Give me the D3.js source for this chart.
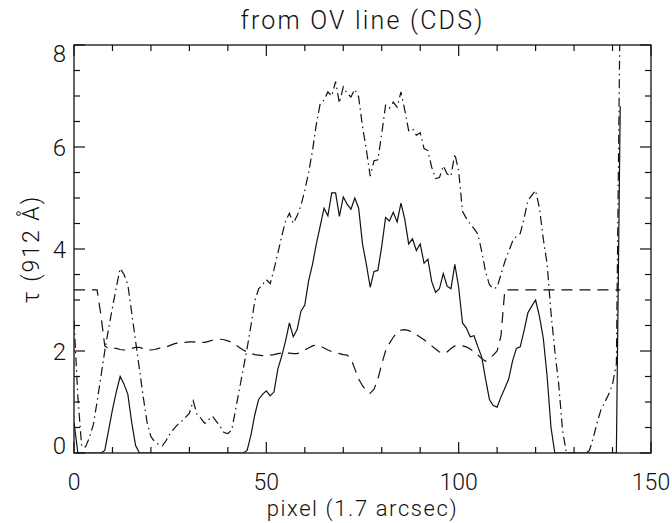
<!DOCTYPE html>
<html>
<head>
<meta charset="utf-8">
<script src="https://cdn.jsdelivr.net/npm/d3@7"></script>
<style>
  body { margin: 0; background: #fff; }
  text { font-family: Roboto, "DejaVu Sans", sans-serif; font-weight: 300; fill: #111; }
</style>
</head>
<body>
<div id="chart"></div>
<script>
// optical depth at 912 A, one value per pixel (index = pixel)
const solidTau = [
  0.6, 0, 0, 0, 0, 0, 0, 0, 0.05, 0.45,
  0.85, 1.2, 1.5, 1.35, 1.15, 0.6, 0.15, 0, 0, 0,
  0, 0, 0, 0, 0, 0, 0, 0, 0, 0,
  0, 0, 0, 0, 0, 0, 0, 0, 0, 0,
  0, 0, 0, 0, 0, 0.05, 0.35, 0.75, 1.05, 1.15,
  1.22, 1.12, 1.2, 1.65, 1.9, 2.2, 2.55, 2.28, 2.42, 2.78,
  2.9, 3.38, 3.7, 4.1, 4.45, 4.8, 4.65, 5.1, 5.1, 4.64,
  5.02, 4.88, 4.78, 5.0, 4.8, 4.1, 3.7, 3.25, 3.56, 3.58,
  4.05, 4.62, 4.55, 4.72, 4.53, 4.9, 4.58, 4.1, 4.2, 3.97,
  4.1, 3.72, 3.8, 3.36, 3.15, 3.22, 3.52, 3.27, 3.22, 3.7,
  3.25, 2.55, 2.45, 2.28, 2.3, 2.08, 1.88, 1.45, 1.05, 0.93,
  0.9, 1.1, 1.27, 1.45, 1.8, 2.05, 2.08, 2.4, 2.75, 2.88,
  3.0, 2.68, 2.25, 1.5, 0.5, 0, 0, 0, 0, 0,
  0, 0, 0, 0, 0, 0, 0, 0, 0, 0,
  0, 0, 6.8
];

const dashedTau = [
  3.2, 3.2, 3.2, 3.2, 3.2, 3.2, 3.2, 2.7, 2.1, 2.05,
  2.05, 2.05, 2.03, 2.02, 2.03, 2.05, 2.07, 2.07, 2.05, 2.03,
  2.02, 2.03, 2.05, 2.07, 2.08, 2.11, 2.14, 2.16, 2.17, 2.17,
  2.18, 2.18, 2.17, 2.17, 2.17, 2.19, 2.21, 2.23, 2.23, 2.22,
  2.2, 2.17, 2.12, 2.07, 2.02, 1.98, 1.95, 1.93, 1.92, 1.91,
  1.91, 1.92, 1.93, 1.95, 1.96, 1.96, 1.96, 1.95, 1.95, 1.98,
  2.02, 2.06, 2.1, 2.12, 2.1, 2.06, 2.02, 1.99, 1.97, 1.95,
  1.93, 1.92, 1.85, 1.65, 1.45, 1.32, 1.22, 1.17, 1.25, 1.45,
  1.75, 2.0, 2.15, 2.27, 2.36, 2.41, 2.42, 2.4, 2.37, 2.32,
  2.27, 2.22, 2.16, 2.1, 2.04, 1.98, 1.95, 1.98, 2.05, 2.1,
  2.1, 2.1, 2.08, 2.04, 1.98, 1.92, 1.85, 1.8, 1.85, 1.92,
  2.0, 2.3, 3.2, 3.2, 3.2, 3.2, 3.2, 3.2, 3.2, 3.2,
  3.2, 3.2, 3.2, 3.2, 3.2, 3.2, 3.2, 3.2, 3.2, 3.2,
  3.2, 3.2, 3.2, 3.2, 3.2, 3.2, 3.2, 3.2, 3.2, 3.2,
  3.2, 3.2, 3.2
];

const dashDotTau = [
  2.6, 1.1, 0.12, 0.12, 0.3, 0.55, 1.0, 1.5, 2.0, 2.45,
  2.85, 3.25, 3.62, 3.5, 3.3, 2.75, 2.2, 1.65, 1.1, 0.6,
  0.32, 0.22, 0.17, 0.14, 0.25, 0.38, 0.48, 0.56, 0.62, 0.7,
  0.78, 1.02, 0.75, 0.68, 0.58, 0.65, 0.72, 0.62, 0.52, 0.4,
  0.38, 0.45, 0.85, 1.25, 1.65, 2.05, 2.5, 2.98, 3.22, 3.3,
  3.4, 3.32, 3.6, 3.92, 4.25, 4.55, 4.7, 4.5, 4.65, 4.85,
  5.15, 5.5, 5.93, 6.45, 6.85, 6.92, 7.08, 7.0, 7.28, 6.86,
  7.18, 7.05, 6.98, 7.13, 6.98, 6.4, 5.95, 5.43, 5.73, 5.75,
  6.26, 6.82, 6.76, 6.88, 6.78, 7.08, 6.72, 6.32, 6.36, 6.23,
  6.28, 5.97, 5.93, 5.6, 5.38, 5.4, 5.63, 5.47, 5.43, 5.87,
  5.53, 4.74, 4.6, 4.49, 4.4, 4.29, 3.95, 3.55, 3.3, 3.22,
  3.25, 3.5, 3.75, 3.95, 4.15, 4.25, 4.3, 4.6, 4.95, 5.05,
  5.15, 4.8, 4.2, 3.7, 2.75, 2.0, 1.35, 0.45, 0, 0,
  0, 0, 0, 0, 0.05, 0.3, 0.6, 0.85, 1.0, 1.15,
  1.35, 1.75, 9.0
];

const xMajorTicks = [0, 50, 100, 150];
const xMinorTicks = [10, 20, 30, 40, 60, 70, 80, 90, 110, 120, 130, 140];
const yMajorTicks = [0, 2, 4, 6, 8];
const yMinorTicks = [0.5, 1, 1.5, 2.5, 3, 3.5, 4.5, 5, 5.5, 6.5, 7, 7.5];

const titleText = 'from OV line (CDS)';
const xLabelText = 'pixel (1.7 arcsec)';
const yLabelText = 'τ (912 Å)';

const W = 672, H = 523;
const margin = { top: 45, right: 21, bottom: 70, left: 74 };
const width = W - margin.left - margin.right;
const height = H - margin.top - margin.bottom;

const svg = d3.select('#chart').append('svg')
  .attr('width', W)
  .attr('height', H);

const chart = svg.append('g')
  .attr('transform', `translate(${margin.left},${margin.top})`);

const xScale = d3.scaleLinear().domain([0, 150]).range([0, width]);
const yScale = d3.scaleLinear().domain([0, 8]).range([height, 0]);

chart.append('clipPath').attr('id', 'plot-clip')
  .append('rect').attr('width', width).attr('height', height);

// data lines
const line = d3.line()
  .x((d, i) => xScale(i))
  .y(d => yScale(d));

const series = [
  { values: solidTau, dash: null },
  { values: dashedTau, dash: '11,7' },
  { values: dashDotTau, dash: '9,4,1.5,4' }
];

chart.append('g').attr('clip-path', 'url(#plot-clip)')
  .selectAll('path')
  .data(series)
  .join('path')
  .attr('d', d => line(d.values))
  .attr('fill', 'none')
  .attr('stroke', '#111')
  .attr('stroke-width', 1.2)
  .attr('stroke-dasharray', d => d.dash);

// box with ticks on all four sides (IDL style)
const major = 11, minor = 6;
const ticksG = chart.append('g').attr('stroke', '#111').attr('stroke-width', 1.2);

const xTickData = xMajorTicks.map(v => ({ v, len: major }))
  .concat(xMinorTicks.map(v => ({ v, len: minor })));
const yTickData = yMajorTicks.map(v => ({ v, len: major }))
  .concat(yMinorTicks.map(v => ({ v, len: minor })));

ticksG.selectAll('.xb').data(xTickData).join('line')
  .attr('x1', d => xScale(d.v)).attr('x2', d => xScale(d.v))
  .attr('y1', height).attr('y2', d => height - d.len);
ticksG.selectAll('.xt').data(xTickData).join('line')
  .attr('x1', d => xScale(d.v)).attr('x2', d => xScale(d.v))
  .attr('y1', 0).attr('y2', d => d.len);
ticksG.selectAll('.yl').data(yTickData).join('line')
  .attr('x1', 0).attr('x2', d => d.len)
  .attr('y1', d => yScale(d.v)).attr('y2', d => yScale(d.v));
ticksG.selectAll('.yr').data(yTickData).join('line')
  .attr('x1', width).attr('x2', d => width - d.len)
  .attr('y1', d => yScale(d.v)).attr('y2', d => yScale(d.v));

chart.append('rect')
  .attr('width', width).attr('height', height)
  .attr('fill', 'none').attr('stroke', '#111').attr('stroke-width', 1.3);

// tick labels
chart.selectAll('.xlab').data(xMajorTicks).join('text')
  .attr('x', d => xScale(d))
  .attr('y', height + 37)
  .attr('text-anchor', 'middle')
  .attr('font-size', 23)
  .text(d => d);

chart.selectAll('.ylab').data(yMajorTicks).join('text')
  .attr('x', -8)
  .attr('y', d => Math.min(Math.max(yScale(d), 8), height - 8))
  .attr('dy', '0.36em')
  .attr('text-anchor', 'end')
  .attr('font-size', 24)
  .text(d => d);

// titles
svg.append('text')
  .attr('x', margin.left + width / 2)
  .attr('y', 29)
  .attr('text-anchor', 'middle')
  .attr('font-size', 25)
  .attr('letter-spacing', 2.2)
  .text(titleText);

svg.append('text')
  .attr('x', margin.left + width / 2)
  .attr('y', 516)
  .attr('text-anchor', 'middle')
  .attr('font-size', 22)
  .attr('letter-spacing', 1.6)
  .text(xLabelText);

svg.append('text')
  .attr('transform', `translate(39,${margin.top + height / 2}) rotate(-90)`)
  .attr('text-anchor', 'middle')
  .attr('font-size', 23)
  .attr('letter-spacing', 2)
  .text(yLabelText);
</script>
</body>
</html>
